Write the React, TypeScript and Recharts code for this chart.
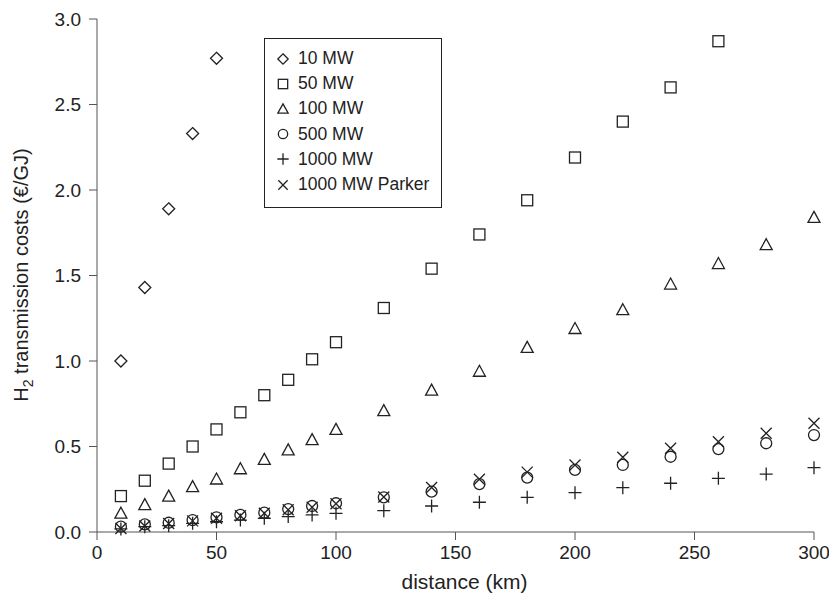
import { ScatterChart, Scatter, XAxis, YAxis } from 'recharts';

// distances (km) at which costs were evaluated
const distShort = [10, 20, 30, 40, 50];
const distances = [10, 20, 30, 40, 50, 60, 70, 80, 90, 100, 120, 140, 160, 180, 200, 220, 240, 260, 280, 300];
const dist50 = [10, 20, 30, 40, 50, 60, 70, 80, 90, 100, 120, 140, 160, 180, 200, 220, 240, 260];

// transmission costs (€/GJ)
const cost10 = [1.0, 1.43, 1.89, 2.33, 2.77];
const cost50 = [0.21, 0.3, 0.4, 0.5, 0.6, 0.7, 0.8, 0.89, 1.01, 1.11, 1.31, 1.54, 1.74, 1.94, 2.19, 2.4, 2.6, 2.87];
const cost100 = [0.11, 0.16, 0.21, 0.265, 0.31, 0.37, 0.425, 0.48, 0.54, 0.6, 0.71, 0.83, 0.94, 1.08, 1.19, 1.3, 1.45, 1.57, 1.68, 1.84];
const cost500 = [0.031, 0.045, 0.054, 0.07, 0.086, 0.1, 0.113, 0.134, 0.152, 0.168, 0.203, 0.236, 0.28, 0.318, 0.363, 0.392, 0.44, 0.485, 0.519, 0.567];
const cost1000 = [0.018, 0.031, 0.037, 0.051, 0.06, 0.07, 0.08, 0.09, 0.1, 0.109, 0.125, 0.152, 0.174, 0.203, 0.23, 0.259, 0.285, 0.314, 0.339, 0.376];
const costParker = [0.02, 0.035, 0.05, 0.065, 0.08, 0.095, 0.11, 0.13, 0.145, 0.165, 0.205, 0.26, 0.308, 0.35, 0.392, 0.437, 0.49, 0.528, 0.577, 0.636];

const xTicks = [0, 50, 100, 150, 200, 250, 300];
const yTicks = [0, 0.5, 1.0, 1.5, 2.0, 2.5, 3.0];

type Kind = 'diamond' | 'square' | 'triangle' | 'circle' | 'plus' | 'cross';

const ink = '#222';
const font = '"Liberation Sans", Arial, sans-serif';

const toPoints = (xs: number[], ys: number[]) => xs.map((x, i) => ({ x, y: ys[i] }));

const series: { name: string; kind: Kind; data: { x: number; y: number }[] }[] = [
  { name: '10 MW', kind: 'diamond', data: toPoints(distShort, cost10) },
  { name: '50 MW', kind: 'square', data: toPoints(dist50, cost50) },
  { name: '100 MW', kind: 'triangle', data: toPoints(distances, cost100) },
  { name: '500 MW', kind: 'circle', data: toPoints(distances, cost500) },
  { name: '1000 MW', kind: 'plus', data: toPoints(distances, cost1000) },
  { name: '1000 MW Parker', kind: 'cross', data: toPoints(distances, costParker) },
];

function Marker({ kind, cx, cy, s = 1 }: { kind: Kind; cx: number; cy: number; s?: number }) {
  const common = { fill: 'none', stroke: ink, strokeWidth: 1.3 };
  const r = 5.5 * s;
  switch (kind) {
    case 'diamond':
      return <path d={`M${cx},${cy - r - 0.5}L${cx + r + 0.5},${cy}L${cx},${cy + r + 0.5}L${cx - r - 0.5},${cy}Z`} {...common} />;
    case 'square':
      return <rect x={cx - r} y={cy - r} width={2 * r} height={2 * r} {...common} />;
    case 'triangle':
      return <path d={`M${cx},${cy - r - 0.5}L${cx + r + 0.5},${cy + r - 0.5}L${cx - r - 0.5},${cy + r - 0.5}Z`} {...common} />;
    case 'circle':
      return <circle cx={cx} cy={cy} r={r} {...common} />;
    case 'plus':
      return <path d={`M${cx - r - 1},${cy}H${cx + r + 1}M${cx},${cy - r - 1}V${cy + r + 1}`} {...common} />;
    case 'cross':
      return <path d={`M${cx - r},${cy - r}L${cx + r},${cy + r}M${cx + r},${cy - r}L${cx - r},${cy + r}`} {...common} />;
  }
}

// boxed legend drawn over the plot area
function LegendBox() {
  return (
    <div
      style={{
        position: 'absolute',
        left: 264,
        top: 38,
        border: '1px solid #222',
        background: '#fff',
        width: 178,
        height: 170,
        boxSizing: 'border-box',
        padding: '7px 0 0 10px',
        fontFamily: font,
        fontSize: 17.5,
        color: ink,
      }}
    >
      {series.map((s) => (
        <div key={s.name} style={{ display: 'flex', alignItems: 'center', height: 25.2 }}>
          <svg width={20} height={16} style={{ marginRight: 3 }}>
            <Marker kind={s.kind} cx={8} cy={8} s={0.85} />
          </svg>
          <span>{s.name}</span>
        </div>
      ))}
    </div>
  );
}

function YLabel() {
  return (
    <text
      transform="translate(28,275) rotate(-90)"
      textAnchor="middle"
      fontFamily={font}
      fontSize={20}
      fill={ink}
    >
      H<tspan dy={5} fontSize={14}>2</tspan>
      <tspan dy={-5}> transmission costs (€/GJ)</tspan>
    </text>
  );
}

export default function App() {
  return (
    <div style={{ position: 'absolute', left: 0, top: 0, width: 829, height: 603, background: '#fff' }}>
      <ScatterChart width={829} height={603} margin={{ top: 19, right: 15, bottom: 21, left: 0 }}>
        <XAxis
          type="number"
          dataKey="x"
          domain={[0, 300]}
          ticks={xTicks}
          stroke="#555"
          tickSize={8}
          tickMargin={6}
          height={50}
          tick={{ fill: ink, fontSize: 19, fontFamily: font }}
          label={{ value: 'distance (km)', position: 'insideBottom', offset: -7, dx: 9, fill: ink, fontSize: 21, fontFamily: font }}
        />
        <YAxis
          type="number"
          dataKey="y"
          domain={[0, 3]}
          ticks={yTicks}
          stroke="#555"
          width={97}
          tickSize={8}
          tickMargin={8}
          tickFormatter={(v: number) => v.toFixed(1)}
          tick={{ fill: ink, fontSize: 19, fontFamily: font }}
          label={<YLabel />}
        />
        {series.map((s) => (
          <Scatter
            key={s.name}
            name={s.name}
            data={s.data}
            isAnimationActive={false}
            shape={(p: any) => <Marker kind={s.kind} cx={p.cx} cy={p.cy} />}
          />
        ))}
      </ScatterChart>
      <LegendBox />
    </div>
  );
}
